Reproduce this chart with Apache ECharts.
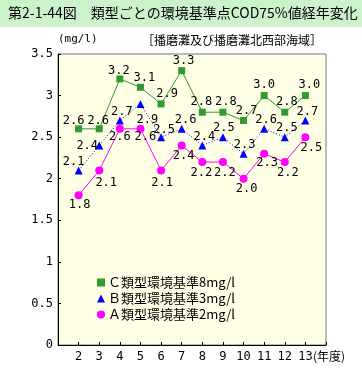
<!DOCTYPE html>
<html><head><meta charset="utf-8">
<script src="https://cdn.jsdelivr.net/npm/echarts@6/dist/echarts.min.js"></script>
<style>html,body{margin:0;padding:0;background:#fff}#c{width:362px;height:369px}</style>
</head><body><div id="c"></div>
<script>
const years = [2,3,4,5,6,7,8,9,10,11,12,13];
const seriesC = [2.6,2.6,3.2,3.1,2.9,3.3,2.8,2.8,2.7,3.0,2.8,3.0];
const seriesB = [2.1,2.4,2.7,2.9,2.5,2.6,2.4,2.5,2.3,2.6,2.5,2.7];
const seriesA = [1.8,2.1,2.6,2.6,2.1,2.4,2.2,2.2,2.0,2.3,2.2,2.5];
const names = ['Ｃ類型環境基準8mg/l','Ｂ類型環境基準3mg/l','Ａ類型環境基準2mg/l'];
const yTicks = [0,0.5,1,1.5,2,2.5,3,3.5];

// label offsets (styling only)
const offC = [[-5,-8],[-1,-8],[-1,-8],[4,-9],[6,-10],[2,-10],[-1,-10],[3,-10],[3,-10],[0,-11],[2,-10],[4,-11]];
const offB = [[-5,-9],[-12,0],[2,-9],[7,16],[3,-7],[4,-9],[2,-9],[1,-9],[1,-9],[2,-9],[2,-9],[2,-9]];
const offA = [[1,10],[7,12],[0,8],[5,8],[1,12],[2,10],[-1,11],[2,11],[3,10],[3,9],[3,11],[6,11]];

const numFont = '"DejaVu Sans Mono", monospace';
const jpFont = '"Noto Sans CJK JP", sans-serif';

function build(vals, offs) {
  return vals.map((v, i) => ({
    value: [years[i], v],
    label: { offset: offs[i] }
  }));
}
function lbl() {
  return {
    show: true, position: 'inside', align: 'center', verticalAlign: 'middle',
    color: '#000', fontSize: 12, fontFamily: numFont,
    formatter: p => p.value[1].toFixed(1)
  };
}

const chart = echarts.init(document.getElementById('c'), null, {renderer: 'canvas'});
chart.setOption({
  animation: false,
  textStyle: { fontFamily: jpFont },
  grid: { left: 58, top: 54, right: 36, bottom: 24, show: true,
          backgroundColor: '#FFFFE6', borderColor: '#777777', borderWidth: 1 },
  graphic: [
    { type: 'rect', left: 0, top: 0, shape: { width: 362, height: 27 }, style: { fill: '#CCF2CC' }, z: -1 },
    { type: 'text', left: 8, top: 6, style: { text: '第2-1-44図　類型ごとの環境基準点COD75%値経年変化', font: '14px "Noto Sans CJK JP"', fill: '#000' } },
    { type: 'text', left: 58, top: 34, style: { text: '(mg/l)', font: '11px ' + numFont, fill: '#000' } },
    { type: 'text', left: 142, top: 34, style: { text: '［播磨灘及び播磨灘北西部海域］', font: '12px "Noto Sans CJK JP"', fill: '#000' } },
    { type: 'text', left: 313, top: 350, style: { text: '(年度)', font: '12px "Noto Sans CJK JP"', fill: '#000' } }
  ],
  xAxis: {
    type: 'value', min: 1, max: 14, interval: 1,
    splitLine: { show: false },
    axisLine: { show: true, lineStyle: { color: '#000', width: 1 } },
    axisTick: { show: true, inside: true, length: 3, lineStyle: { color: '#000' } },
    axisLabel: { color: '#000', fontSize: 12, fontFamily: numFont, margin: 6,
      formatter: v => (years.indexOf(v) >= 0 ? String(v) : '') }
  },
  yAxis: {
    type: 'value', min: 0, max: 3.5, interval: 0.5,
    splitLine: { show: false },
    axisLine: { show: true, lineStyle: { color: '#000', width: 1 } },
    axisTick: { show: true, inside: true, length: 3, lineStyle: { color: '#000' } },
    axisLabel: { color: '#000', fontSize: 12, fontFamily: numFont, margin: 5,
      formatter: v => (yTicks.indexOf(v) >= 0 ? String(v) : '') }
  },
  legend: {
    left: 92, top: 271, orient: 'vertical', itemGap: 3, itemWidth: 8, itemHeight: 8,
    textStyle: { fontSize: 13, fontFamily: jpFont, color: '#000', padding: [0,0,0,-2] },
    data: [
      { name: names[0], icon: 'rect', itemStyle: { color: '#339933' } },
      { name: names[1], icon: 'triangle', itemStyle: { color: '#0000FF' } },
      { name: names[2], icon: 'circle', itemStyle: { color: '#FF00FF' } }
    ]
  },
  series: [
    { name: names[0], type: 'line', data: build(seriesC, offC), symbol: 'rect', symbolSize: 7,
      itemStyle: { color: '#339933' }, lineStyle: { color: '#339933', width: 1 }, label: lbl() },
    { name: names[1], type: 'line', data: build(seriesB, offB), symbol: 'triangle', symbolSize: 8,
      itemStyle: { color: '#0000FF' }, lineStyle: { color: '#0000FF', width: 1, type: [1,2] }, label: lbl() },
    { name: names[2], type: 'line', data: build(seriesA, offA), symbol: 'circle', symbolSize: 8,
      itemStyle: { color: '#FF00FF' }, lineStyle: { color: '#FF00FF', width: 1 }, label: lbl() }
  ]
});
</script></body></html>
